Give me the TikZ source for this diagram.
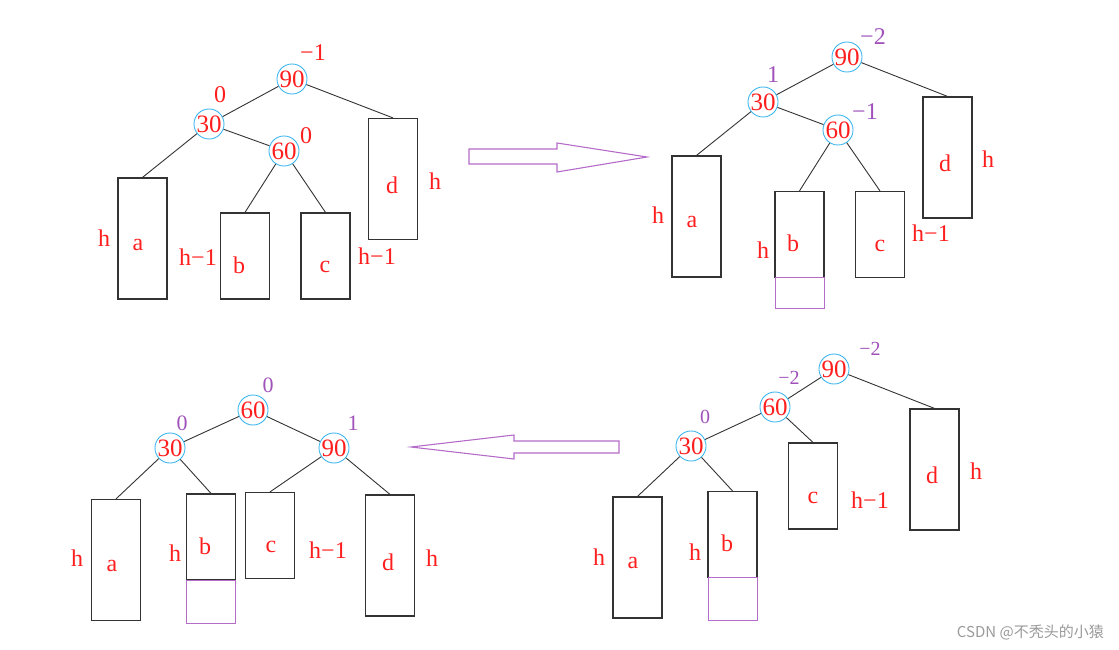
\documentclass[tikz,border=0pt]{standalone}
\usepackage{fontspec}
\setmainfont{Liberation Serif}
\newfontfamily\cjkfont{Noto Sans CJK SC}
\usetikzlibrary{positioning}
\definecolor{keyred}{HTML}{FF1E1E}
\definecolor{ring}{HTML}{3DB6EE}
\definecolor{bfpurple}{HTML}{A052BA}
\definecolor{arrowpurple}{HTML}{B46CC8}
\definecolor{edge}{HTML}{333333}
\definecolor{mark}{HTML}{9A9A9A}
\tikzset{
  key/.style   ={circle, draw=ring, line width=0.9pt, minimum size=30pt, inner sep=0pt,
                 text=keyred, font=\fontsize{25}{25}\selectfont},
  tall/.style  ={draw=edge, line width=1.2pt, minimum width=49pt, minimum height=121pt,
                 inner sep=0pt},
  short/.style ={tall, minimum height=86pt},
  extra/.style ={draw=arrowpurple, line width=1pt, minimum width=49pt, inner sep=0pt},
  lt/.style    ={text=keyred, font=\fontsize{24}{24}\selectfont, inner sep=0pt},
  bf/.style    ={lt},
  bfp/.style   ={text=bfpurple, font=\fontsize{24}{24}\selectfont, inner sep=0pt},
  bfs/.style   ={bfp, font=\fontsize{20}{20}\selectfont},
  ln/.style    ={draw=edge, line width=0.9pt},
  big/.style   ={draw=arrowpurple, line width=1.1pt},
  wm/.style    ={text=mark, font=\cjkfont\fontsize{15}{15}\selectfont, inner sep=0pt},
}

\begin{document}
\begin{tikzpicture}[x=1pt,y=-1pt]
  \useasboundingbox (0,0) rectangle (1119,650);

  \node[key] (A90) at (292,79) {90};
  \node[key] (A30) at (209,124) {30};
  \node[key] (A60) at (284,151) {60};
  \node[bf] (A90f) at (313,53) {−1};
  \node[bf] (A30f) at (220,95) {0};
  \node[bf] (A60f) at (306,136) {0};
  \node[tall] (Aa) at (142.5,238.5) {};
  \node[short] (Ab) at (245,256) {};
  \node[short] (Ac) at (325.5,256) {};
  \node[tall] (Ad) at (393,179) {};
  \node[lt] (Aat) at (138,245) {a};
  \node[lt] (Abt) at (239,265) {b};
  \node[lt] (Act) at (325,267) {c};
  \node[lt] (Adt) at (392,185) {d};
  \node[lt] (Aah) at (104,238) {h};
  \node[lt] (Abh) at (198,257) {h−1};
  \node[lt] (Ach) at (377,256) {h−1};
  \node[lt] (Adh) at (435,181) {h};
  \draw[ln] (A90) -- (A30);
  \draw[ln] (A90) -- (Ad.north);
  \draw[ln] (A30) -- (Aa.north);
  \draw[ln] (A30) -- (A60);
  \draw[ln] (A60) -- (Ab.north);
  \draw[ln] (A60) -- (Ac.north);

  \draw[big] (469,149) -- (557,149) -- (557,143) -- (647,157) -- (557,172)
    -- (557,164) -- (469,164) -- cycle;

  \node[key] (B90) at (847,57) {90};
  \node[key] (B30) at (763,102) {30};
  \node[key] (B60) at (838,130) {60};
  \node[bfp] (B90f) at (873,37) {−2};
  \node[bfp] (B30f) at (773,75) {1};
  \node[bfp] (B60f) at (865,112) {−1};
  \node[tall] (Ba) at (696.5,216.5) {};
  \node[short] (Bb) at (799.5,234.5) {};
  \node[extra, minimum height=31pt] (Bx) at (799.5,292.5) {};
  \node[short] (Bc) at (880,234.5) {};
  \node[tall] (Bd) at (947.5,157.5) {};
  \node[lt] (Bat) at (692,222) {a};
  \node[lt] (Bbt) at (793,243) {b};
  \node[lt] (Bct) at (880,246) {c};
  \node[lt] (Bdt) at (945,163) {d};
  \node[lt] (Bah) at (658,215) {h};
  \node[lt] (Bbh) at (763,250) {h};
  \node[lt] (Bch) at (931,233) {h−1};
  \node[lt] (Bdh) at (988,159) {h};
  \draw[ln] (B90) -- (B30);
  \draw[ln] (B90) -- (Bd.north);
  \draw[ln] (B30) -- (Ba.north);
  \draw[ln] (B30) -- (B60);
  \draw[ln] (B60) -- (Bb.north);
  \draw[ln] (B60) -- (Bc.north);

  \node[key] (C90) at (834,369) {90};
  \node[key] (C60) at (775,407) {60};
  \node[key] (C30) at (691,446) {30};
  \node[bfs] (C90f) at (870,349) {−2};
  \node[bfs] (C60f) at (789,378) {−2};
  \node[bfs] (C30f) at (705,417) {0};
  \node[tall] (Ca) at (637.5,557.5) {};
  \node[short] (Cb) at (732.5,534.5) {};
  \node[extra, minimum height=43pt] (Cx) at (732.5,598.5) {};
  \node[short] (Cc) at (813,486) {};
  \node[tall] (Cd) at (934.5,469.5) {};
  \node[lt] (Cat) at (633,563) {a};
  \node[lt] (Cbt) at (727,543) {b};
  \node[lt] (Cct) at (813,498) {c};
  \node[lt] (Cdt) at (932,475) {d};
  \node[lt] (Cah) at (599,557) {h};
  \node[lt] (Cbh) at (695,552) {h};
  \node[lt] (Cch) at (870,500) {h−1};
  \node[lt] (Cdh) at (976,471) {h};
  \draw[ln] (C90) -- (C60);
  \draw[ln] (C90) -- (Cd.north);
  \draw[ln] (C60) -- (C30);
  \draw[ln] (C60) -- (Cc.north);
  \draw[ln] (C30) -- (Ca.north);
  \draw[ln] (C30) -- (Cb.north);

  \draw[big] (619,441) -- (514,441) -- (514,435) -- (411,447) -- (514,459)
    -- (514,453) -- (619,453) -- cycle;

  \node[key] (D60) at (253,410) {60};
  \node[key] (D30) at (170,448) {30};
  \node[key] (D90) at (334,448) {90};
  \node[bfp, font=\fontsize{22}{22}\selectfont] (D60f) at (268,385) {0};
  \node[bfp, font=\fontsize{22}{22}\selectfont] (D30f) at (182,423) {0};
  \node[bfp, font=\fontsize{22}{22}\selectfont] (D90f) at (353,423) {1};
  \node[tall] (Da) at (116,560) {};
  \node[short] (Db) at (211,537) {};
  \node[extra, minimum height=43pt] (Dx) at (211,601.5) {};
  \node[short] (Dc) at (270,535.5) {};
  \node[tall] (Dd) at (390,555.5) {};
  \node[lt] (Dat) at (112,566) {a};
  \node[lt] (Dbt) at (205,546) {b};
  \node[lt] (Dct) at (271,547) {c};
  \node[lt] (Ddt) at (388,562) {d};
  \node[lt] (Dah) at (77,558) {h};
  \node[lt] (Dbh) at (175,553) {h};
  \node[lt] (Dch) at (328,550) {h−1};
  \node[lt] (Ddh) at (432,558) {h};
  \draw[ln] (D60) -- (D30);
  \draw[ln] (D60) -- (D90);
  \draw[ln] (D30) -- (Da.north);
  \draw[ln] (D30) -- (Db.north);
  \draw[ln] (D90) -- (Dc.north);
  \draw[ln] (D90) -- (Dd.north);

  \node[wm, anchor=east] (mark) at (1104,632) {CSDN @不秃头的小猿};
\end{tikzpicture}
\end{document}
